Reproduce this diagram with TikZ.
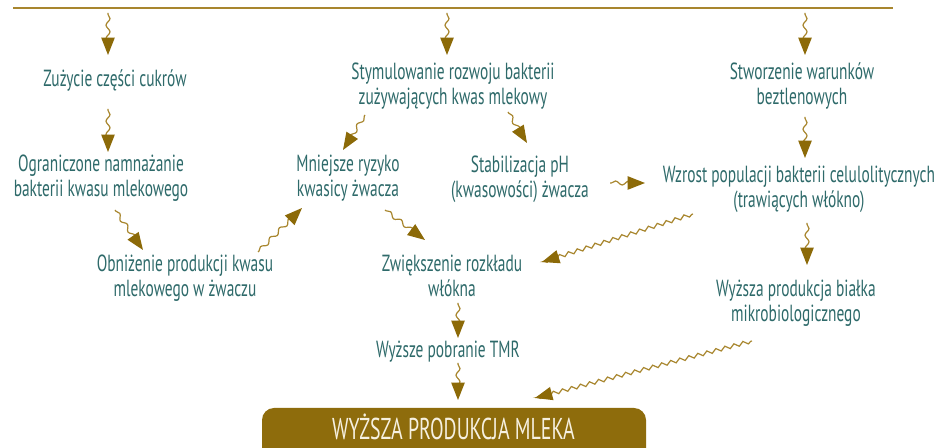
\documentclass[tikz,border=0pt]{standalone}
\usepackage{fontspec}
\setmainfont{PT Sans}[FakeStretch=0.66]
\usetikzlibrary{decorations.pathmorphing,arrows.meta}
\definecolor{txt}{HTML}{2E6A6A}
\definecolor{gold}{HTML}{A8862E}
\definecolor{golddark}{HTML}{8C6A08}
\definecolor{boxfill}{HTML}{8E6C0C}
\definecolor{boxtxt}{HTML}{F6F0E0}
\begin{document}
\begin{tikzpicture}[x=0.75pt,y=-0.75pt,
  lbl/.style={text=txt, align=center, inner sep=0pt, anchor=base, font=\fontsize{17.5pt}{18.8pt}\selectfont},
  tipstyle/.style={-{Triangle[width=10pt,length=13pt,color=golddark]}},
  wvshort/.style={tipstyle, draw=gold, line width=0.9pt, decorate, decoration={snake, amplitude=1.5pt, segment length=10pt, pre length=1pt, post length=1pt}},
  wvlong/.style={tipstyle, draw=gold, line width=0.9pt, decorate, decoration={snake, amplitude=1.4pt, segment length=7pt, pre length=1pt, post length=1pt}}
]
\clip (0,0) rectangle (940,448);
\fill[white] (0,0) rectangle (940,448);

% top line
\coordinate (topL) at (13,8);
\coordinate (topR) at (893,8);
\draw[gold, line width=1.6pt] (topL) -- (topR);

% nodes (anchor = baseline of last line)
\node[lbl] (zuz) at (115,87) {Zużycie części cukrów};
\node[lbl] (ogr) at (101,197) {Ograniczone namnażanie\\bakterii kwasu mlekowego};
\node[lbl] (obn) at (185,297) {Obniżenie produkcji kwasu\\mlekowego w żwaczu};
\node[lbl] (mni) at (348,197) {Mniejsze ryzyko\\kwasicy żwacza};
\node[lbl] (sty) at (453,105) {Stymulowanie rozwoju bakterii\\zużywających kwas mlekowy};
\node[lbl] (sta) at (520,198) {Stabilizacja pH\\(kwasowości) żwacza};
\node[lbl] (stw) at (802,105) {Stworzenie warunków\\beztlenowych};
\node[lbl] (wzr) at (799,208) {Wzrost populacji bakterii celulolitycznych\\(trawiących włókno)};
\node[lbl] (zwi) at (452,297) {Zwiększenie rozkładu\\włókna};
\node[lbl] (tmr) at (448,358) {Wyższe pobranie TMR};
\node[lbl] (bia) at (796,322) {Wyższa produkcja białka\\mikrobiologicznego};

\fill[boxfill, rounded corners=9pt] (262,408) rectangle (646,475);
\node[text=boxtxt, inner sep=0pt, anchor=base, font=\fontsize{22.6pt}{24pt}\selectfont] (mleko) at (453.5,440) {WYŻSZA PRODUKCJA MLEKA};

% connector end points
\coordinate (a1s) at (108,13);  \coordinate (a1t) at (108,55);
\coordinate (a2s) at (447,13);  \coordinate (a2t) at (447,55);
\coordinate (a3s) at (805,13);  \coordinate (a3t) at (805,55);
\coordinate (zuzOut) at (108,109); \coordinate (ogrIn) at (108,152);
\coordinate (ogrOut) at (115,210); \coordinate (obnIn) at (143,250);
\coordinate (obnOut) at (258,252); \coordinate (mniIn) at (302,208);
\coordinate (styOutL) at (365,115); \coordinate (mniInT) at (343,150);
\coordinate (styOutR) at (508,112); \coordinate (staIn) at (527,143);
\coordinate (mniOut) at (385,210); \coordinate (zwiInL) at (425,240);
\coordinate (staOut) at (610,183); \coordinate (wzrIn) at (645,183);
\coordinate (stwOut) at (805,117); \coordinate (wzrInT) at (805,158);
\coordinate (wzrOut) at (807,223); \coordinate (biaIn) at (807,265);
\coordinate (wzrOutL) at (693,214); \coordinate (zwiInR) at (542,262);
\coordinate (zwiOut) at (458,303); \coordinate (tmrIn) at (458,338);
\coordinate (tmrOut) at (458,363); \coordinate (mlekoIn) at (458,400);
\coordinate (biaOut) at (752,341); \coordinate (mlekoInR) at (535,398);

\draw[wvshort] (a1s) -- (a1t);
\draw[wvshort] (a2s) -- (a2t);
\draw[wvshort] (a3s) -- (a3t);
\draw[wvshort] (zuzOut) -- (ogrIn);
\draw[wvshort] (ogrOut) -- (obnIn);
\draw[wvshort] (obnOut) -- (mniIn);
\draw[wvshort] (styOutL) -- (mniInT);
\draw[wvshort] (styOutR) -- (staIn);
\draw[wvshort] (mniOut) -- (zwiInL);
\draw[wvshort] (staOut) -- (wzrIn);
\draw[wvshort] (stwOut) -- (wzrInT);
\draw[wvshort] (wzrOut) -- (biaIn);
\draw[wvlong] (wzrOutL) -- (zwiInR);
\draw[wvshort] (zwiOut) -- (tmrIn);
\draw[wvshort] (tmrOut) -- (mlekoIn);
\draw[wvlong] (biaOut) -- (mlekoInR);
\end{tikzpicture}
\end{document}
